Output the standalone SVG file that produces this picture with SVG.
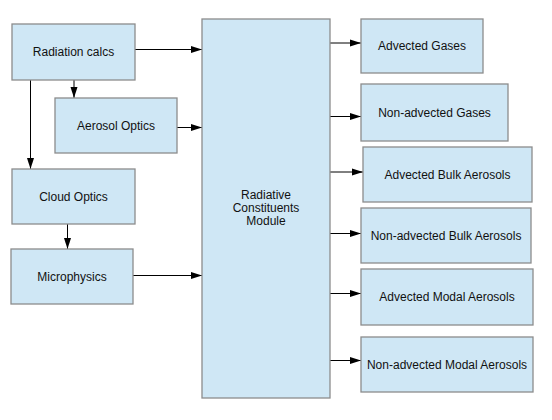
<svg xmlns="http://www.w3.org/2000/svg" width="552" height="420" viewBox="0 0 552 420">
<style>
.box{fill:#cfe7f5;stroke:#8c8c8c;stroke-width:1.3}
.lbl{font-family:"Liberation Sans",Arial,sans-serif;font-size:12px;fill:#111;text-anchor:middle}
.con{stroke:#000;stroke-width:1;fill:none;marker-end:url(#ah)}
</style>
<defs>
<marker id="ah" markerUnits="userSpaceOnUse" markerWidth="12" markerHeight="8" refX="11" refY="4" orient="auto">
<polygon points="0,0.5 11,4 0,7.5" fill="#000"/>
</marker>
</defs>
<rect width="552" height="420" fill="#fff"/>
<g id="connectors">
<line class="con" x1="135" y1="49.5" x2="202" y2="49.5"/>
<line class="con" x1="177" y1="127.5" x2="202" y2="127.5"/>
<line class="con" x1="133" y1="275.5" x2="202" y2="275.5"/>
<line class="con" x1="74" y1="80" x2="74" y2="98"/>
<line class="con" x1="30.5" y1="80" x2="30.5" y2="169"/>
<line class="con" x1="67.5" y1="224" x2="67.5" y2="249"/>
<line class="con" x1="330" y1="43" x2="361" y2="43"/>
<line class="con" x1="330" y1="116.5" x2="361" y2="116.5"/>
<line class="con" x1="330" y1="172" x2="363" y2="172"/>
<line class="con" x1="330" y1="233.5" x2="361" y2="233.5"/>
<line class="con" x1="330" y1="293.5" x2="361" y2="293.5"/>
<line class="con" x1="330" y1="360.5" x2="361" y2="360.5"/>
</g>
<g id="radiation-calcs"><rect class="box" x="12" y="24" width="123" height="56"/><text class="lbl" x="73.5" y="56">Radiation calcs</text></g>
<g id="aerosol-optics"><rect class="box" x="55" y="98" width="122" height="55"/><text class="lbl" x="116" y="129.5">Aerosol Optics</text></g>
<g id="cloud-optics"><rect class="box" x="12" y="169" width="123" height="55"/><text class="lbl" x="73.5" y="200.5">Cloud Optics</text></g>
<g id="microphysics"><rect class="box" x="11" y="249" width="122" height="55"/><text class="lbl" x="72" y="280.5">Microphysics</text></g>
<g id="rcm"><rect class="box" x="202" y="19" width="128" height="379"/>
<text class="lbl" x="266" y="198.5">Radiative</text>
<text class="lbl" x="266" y="211.8">Constituents</text>
<text class="lbl" x="266" y="225.1">Module</text></g>
<g id="advected-gases"><rect class="box" x="361" y="19" width="122" height="54"/><text class="lbl" x="422" y="50">Advected Gases</text></g>
<g id="non-advected-gases"><rect class="box" x="361" y="84" width="147" height="57"/><text class="lbl" x="434.5" y="116.5">Non-advected Gases</text></g>
<g id="advected-bulk-aerosols"><rect class="box" x="363" y="147" width="169" height="55"/><text class="lbl" x="447.5" y="178.5">Advected Bulk Aerosols</text></g>
<g id="non-advected-bulk-aerosols"><rect class="box" x="361" y="208" width="170" height="55"/><text class="lbl" x="446" y="239.5">Non-advected Bulk Aerosols</text></g>
<g id="advected-modal-aerosols"><rect class="box" x="361" y="269" width="172" height="56"/><text class="lbl" x="447" y="301">Advected Modal Aerosols</text></g>
<g id="non-advected-modal-aerosols"><rect class="box" x="361" y="337" width="172" height="55"/><text class="lbl" x="447" y="368.5">Non-advected Modal Aerosols</text></g>
</svg>
